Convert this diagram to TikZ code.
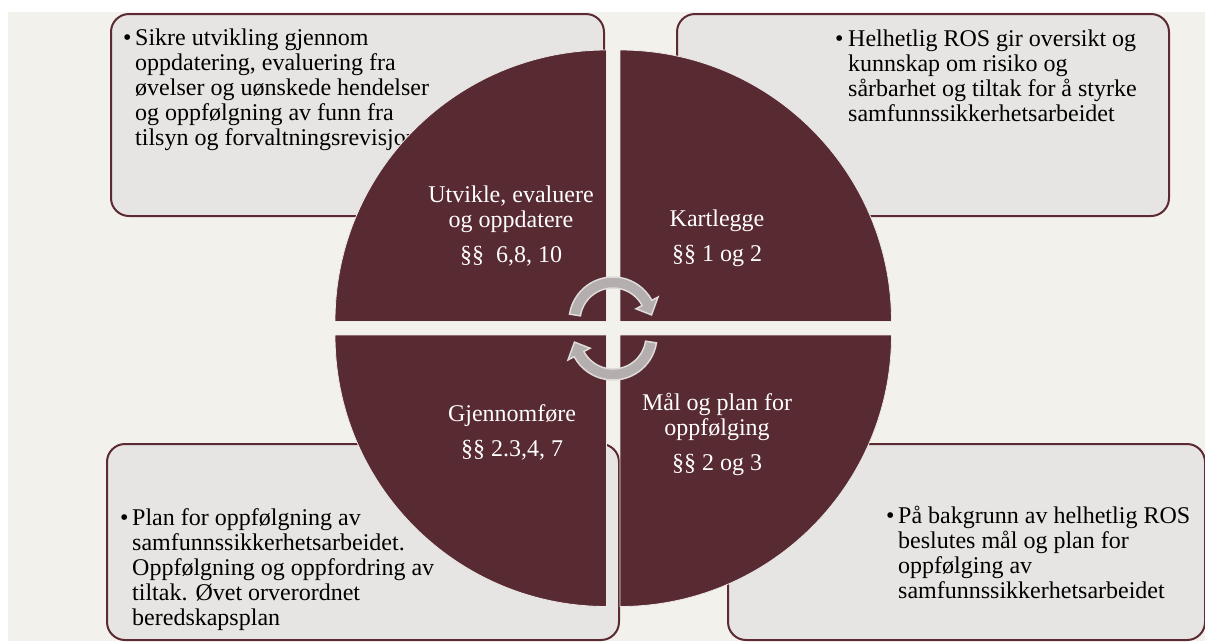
\documentclass[tikz,border=0pt]{standalone}
\usepackage{fontspec}
\setmainfont{Liberation Serif}
\usetikzlibrary{calc}
\definecolor{quadred}{RGB}{88,42,49}
\definecolor{boxline}{RGB}{92,42,51}
\definecolor{boxfill}{RGB}{230,229,227}
\definecolor{creambg}{RGB}{243,241,236}
\definecolor{arrowfill}{RGB}{181,174,175}
\definecolor{arrowline}{RGB}{222,219,218}
\definecolor{quadedge}{RGB}{236,232,232}
\tikzset{
  infobox/.style={draw=boxline, fill=boxfill, line width=2pt, rounded corners=18pt, inner sep=0pt, anchor=north west},
  boxtext/.style={inner sep=0pt, anchor=base west, text=black, font=\fontsize{24}{25}\selectfont},
  bulletmark/.style={inner sep=0pt, anchor=base west, text=black, font=\fontsize{24}{25}\selectfont},
  qlabel/.style={inner sep=0pt, anchor=base, text=white, font=\fontsize{24}{25}\selectfont},
  quadpie/.style={fill=quadred, draw=quadedge, line width=0.8pt},
  cyclearrow/.style={fill=arrowfill, draw=arrowline, line width=1.5pt, line join=miter}
}
\begin{document}
\begin{tikzpicture}[x=1pt,y=-1pt]
\useasboundingbox (0,0) rectangle (1205,641);
\fill[white] (0,0) rectangle (1205,641);
\fill[creambg] (8,12) rectangle (1205,641);

% boxes
\node[infobox, minimum width=493pt, minimum height=202pt] (tl) at (110,13) {};
\node[infobox, minimum width=492pt, minimum height=202pt] (tr) at (676,13) {};
\node[infobox, minimum width=512pt, minimum height=196pt] (bl) at (106,443) {};
\node[infobox, minimum width=477pt, minimum height=196pt] (br) at (727,443) {};

% box texts
\node[bulletmark] (tlb) at (123,45) {•};
\node[boxtext] (tlt) at (135,45) {\parbox[t]{330pt}{Sikre utvikling gjennom\\ oppdatering, evaluering fra\\ øvelser og uønskede hendelser\\ og oppfølgning av funn fra\\ tilsyn og forvaltningsrevisjon}};

\node[bulletmark] (trb) at (835,46) {•};
\node[boxtext] (trt) at (848,46) {\parbox[t]{320pt}{Helhetlig ROS gir oversikt og\\ kunnskap om risiko og\\ sårbarhet og tiltak for å styrke\\ samfunnssikkerhetsarbeidet}};

\node[bulletmark] (blb) at (120,525) {•};
\node[boxtext] (blt) at (132,525) {\parbox[t]{330pt}{Plan for oppfølgning av\\ samfunnssikkerhetsarbeidet.\\ Oppfølgning og oppfordring av\\ tiltak. Øvet orverordnet\\ beredskapsplan}};

\node[bulletmark] (brb) at (886,523) {•};
\node[boxtext] (brt) at (898,523) {\parbox[t]{320pt}{På bakgrunn av helhetlig ROS\\ beslutes mål og plan for\\ oppfølging av\\ samfunnssikkerhetsarbeidet}};

% quadrants
\coordinate (cul) at (606.5,321.5);
\coordinate (cur) at (620,321.5);
\coordinate (cll) at (606.5,335);
\coordinate (clr) at (620,335);
\filldraw[quadpie] (cul) -- ++(180:271.5) arc[start angle=180, end angle=270, radius=271.5] -- cycle;
\filldraw[quadpie] (cur) -- ++(270:271.5) arc[start angle=270, end angle=360, radius=271.5] -- cycle;
\filldraw[quadpie] (cll) -- ++(90:271.5) arc[start angle=90, end angle=180, radius=271.5] -- cycle;
\filldraw[quadpie] (clr) -- ++(0:271.5) arc[start angle=0, end angle=90, radius=271.5] -- cycle;

% quadrant labels
\node[qlabel] (ul1) at (511,202) {Utvikle, evaluere};
\node[qlabel] (ul2) at (511,227) {og oppdatere};
\node[qlabel] (ul3) at (511,262) {§§\ \ 6,8, 10};
\node[qlabel] (ur1) at (717,226) {Kartlegge};
\node[qlabel] (ur2) at (717,261) {§§ 1 og 2};
\node[qlabel] (ll1) at (512,421) {Gjennomføre};
\node[qlabel] (ll2) at (512,456) {§§ 2.3,4, 7};
\node[qlabel] (lr1) at (717,410) {Mål og plan for};
\node[qlabel] (lr2) at (717,435) {oppfølging};
\node[qlabel] (lr3) at (717,470) {§§ 2 og 3};

% cycle arrows
\coordinate (ca) at (613,321);
\coordinate (cb) at (613,336);
\filldraw[cyclearrow] ($(ca)+(189:44)$) arc[start angle=189, end angle=332, radius=44]
  -- ($(ca)+(332:51)$) -- ($(ca)+(351:39)$) -- ($(ca)+(332:26)$) -- ($(ca)+(332:33)$)
  arc[start angle=332, end angle=189, radius=33] -- cycle;
\filldraw[cyclearrow] ($(cb)+(9:44)$) arc[start angle=9, end angle=152, radius=44]
  -- ($(cb)+(152:51)$) -- ($(cb)+(171:39)$) -- ($(cb)+(152:26)$) -- ($(cb)+(152:33)$)
  arc[start angle=152, end angle=9, radius=33] -- cycle;
\end{tikzpicture}
\end{document}
